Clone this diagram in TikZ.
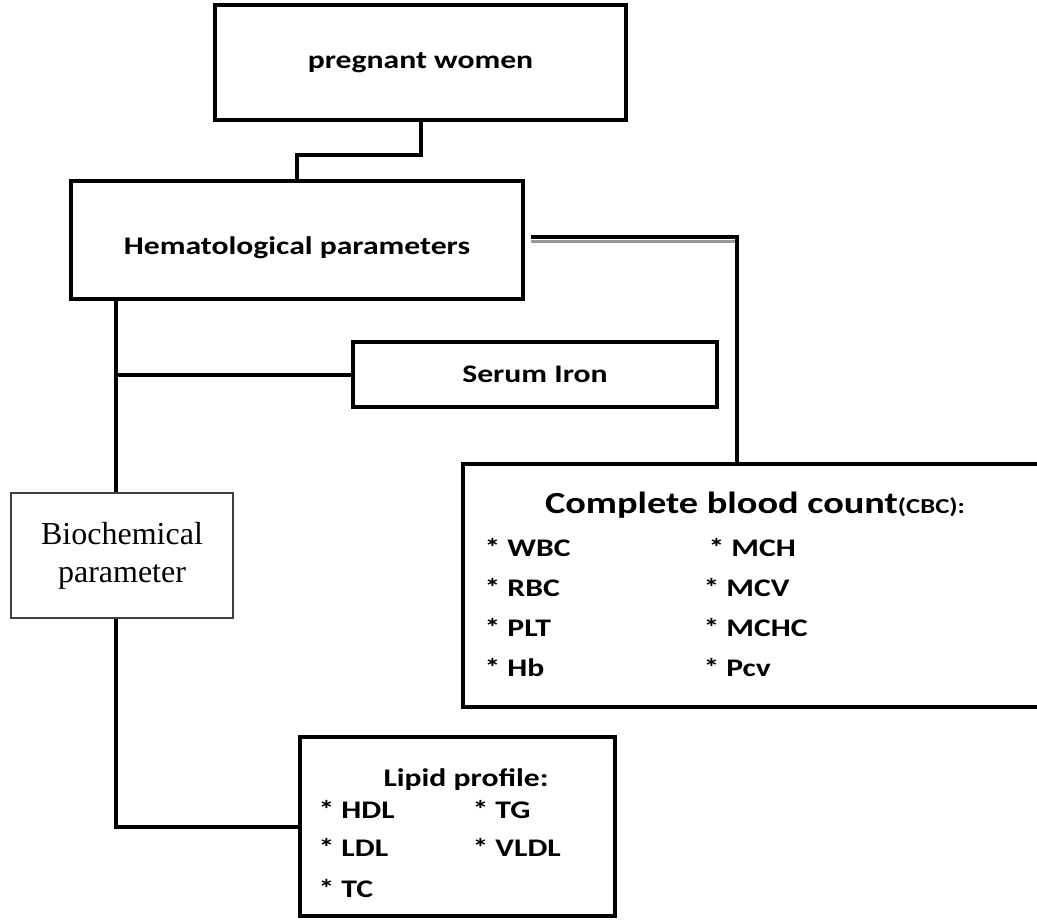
\documentclass[tikz,border=0pt]{standalone}
\usepackage{fontspec}
\setmainfont{Liberation Serif}
\newfontfamily\calfont{Carlito}[FakeStretch=1.25]
\usetikzlibrary{calc}

\tikzset{every picture/.style={line width=0.75pt}}
\tikzset{
  box/.style={draw, line width=3pt, inner sep=0pt, font=\calfont\bfseries\fontsize{19}{23}\selectfont},
  thinbox/.style={draw=black!75, line width=0.9pt, inner sep=0pt, align=center, font=\fontsize{24}{28.5}\selectfont},
  link/.style={line width=3pt},
  item/.style={anchor=base west, inner sep=0pt, font=\calfont\bfseries\fontsize{19}{23}\selectfont},
}

\begin{document}
\begin{tikzpicture}[x=0.75pt,y=0.75pt,yscale=-1,xscale=1]
\useasboundingbox (0,0) rectangle (1037,921);

%Boxes
\node[box, minimum width=308.25pt, minimum height=86.25pt] (pw) at (420.5,62.5) {pregnant women};
\node[box, minimum width=339pt, minimum height=88.5pt] (hemat) at (297,240) {\raisebox{-6pt}[\height][\depth]{Hematological parameters}};
\node[box, minimum width=273pt, minimum height=48.75pt] (serum) at (535,374.5) {Serum Iron};
\node[thinbox, minimum width=166.5pt, minimum height=93.75pt] (bio) at (122,555.5) {Biochemical\\parameter};
\node[box, minimum width=436.5pt, minimum height=182.25pt] (cbc) at (754,585.5) {};
\node[box, minimum width=236.25pt, minimum height=134.25pt] (lipid) at (457.5,826.5) {};

%Join points
\coordinate (trunk) at (116,0);
\coordinate (cbcin) at (737,464);

%Connectors
\draw[link] (pw.south) -- ++(0,33) -| (hemat.north);
\draw[link, draw=black!40, line width=2.25pt] ([xshift=4.5pt,yshift=0.75pt]hemat.east) -- ([yshift=0.75pt]hemat.east -| cbcin);
\draw[link] ([xshift=4.5pt,yshift=-2pt]hemat.east) -| (cbcin);
\draw[link] (hemat.south -| trunk) -- (bio.north -| trunk);
\draw[link] (serum.west) -- (serum.west -| trunk);
\draw[link] (bio.south -| trunk) |- (lipid.west);

% Text Node
\node[item, anchor=base, font=\calfont\bfseries\fontsize{23}{27}\selectfont] (cbctitle) at (755,513) {Complete blood count{\fontsize{16}{19}\selectfont(CBC):}};
\node[item] (wbc) at (484,556) {* WBC};
\node[item] (rbc) at (484,596) {* RBC};
\node[item] (plt) at (484,636) {* PLT};
\node[item] (hb) at (484,676) {* Hb};
\node[item] (mch) at (708,556) {* MCH};
\node[item] (mcv) at (703,596) {* MCV};
\node[item] (mchc) at (703,636) {* MCHC};
\node[item] (pcv) at (703,676) {* Pcv};

% Text Node
\node[item, anchor=base] (lipidtitle) at (466,786) {Lipid profile:};
\node[item] (hdl) at (318,818) {* HDL};
\node[item] (tg) at (472,818) {* TG};
\node[item] (ldl) at (318,856) {* LDL};
\node[item] (vldl) at (472,856) {* VLDL};
\node[item] (tc) at (318,897) {* TC};

\end{tikzpicture}
\end{document}
